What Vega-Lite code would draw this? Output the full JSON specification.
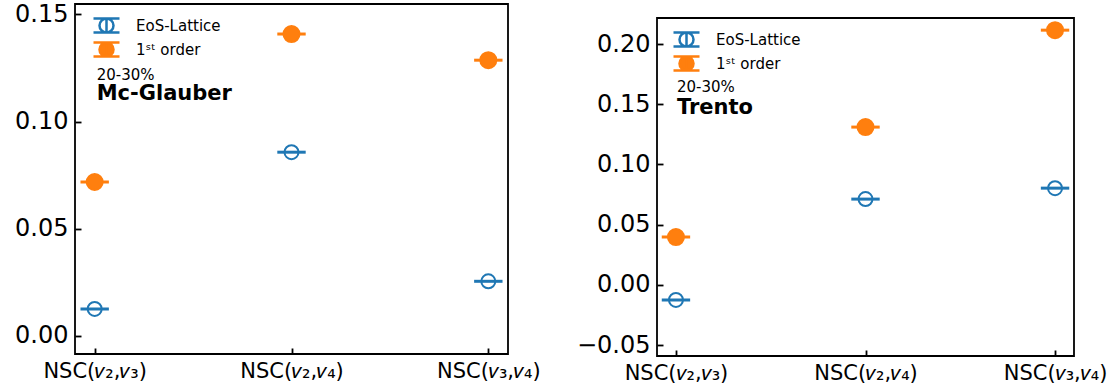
{
  "$schema": "https://vega.github.io/schema/vega-lite/v6.json",
  "padding": {"left": 13, "top": 1, "right": 0, "bottom": 0},
  "background": "white",
  "config": {
    "font": "DejaVu Sans",
    "view": {"stroke": "black", "strokeWidth": 1.8},
    "axis": {
      "domain": false,
      "grid": false,
      "tickColor": "black",
      "tickWidth": 1.8,
      "tickSize": -6,
      "labelColor": "black",
      "labelFont": "DejaVu Sans"
    },
    "axisY": {"labelFontSize": 24, "labelPadding": 13},
    "axisX": {"labelFontSize": 21, "labelPadding": 12, "labelAngle": 0},
    "legend": {
      "padding": 0,
      "symbolSize": 400,
      "symbolStrokeWidth": 2.5,
      "symbolOpacity": 1,
      "labelFontSize": 15,
      "labelColor": "black",
      "labelOffset": 18,
      "rowPadding": -1
    }
  },
  "datasets": {
    "glauber": [
      {"nsc": "NSC(𝑣₂,𝑣₃)", "series": "EoS-Lattice", "value": 0.0126},
      {"nsc": "NSC(𝑣₂,𝑣₄)", "series": "EoS-Lattice", "value": 0.0857},
      {"nsc": "NSC(𝑣₃,𝑣₄)", "series": "EoS-Lattice", "value": 0.0255},
      {"nsc": "NSC(𝑣₂,𝑣₃)", "series": "1ˢᵗ order", "value": 0.0718},
      {"nsc": "NSC(𝑣₂,𝑣₄)", "series": "1ˢᵗ order", "value": 0.1408},
      {"nsc": "NSC(𝑣₃,𝑣₄)", "series": "1ˢᵗ order", "value": 0.1286}
    ],
    "trento": [
      {"nsc": "NSC(𝑣₂,𝑣₃)", "series": "EoS-Lattice", "value": -0.0125},
      {"nsc": "NSC(𝑣₂,𝑣₄)", "series": "EoS-Lattice", "value": 0.0712},
      {"nsc": "NSC(𝑣₃,𝑣₄)", "series": "EoS-Lattice", "value": 0.0803},
      {"nsc": "NSC(𝑣₂,𝑣₃)", "series": "1ˢᵗ order", "value": 0.0397},
      {"nsc": "NSC(𝑣₂,𝑣₄)", "series": "1ˢᵗ order", "value": 0.1310},
      {"nsc": "NSC(𝑣₃,𝑣₄)", "series": "1ˢᵗ order", "value": 0.2115}
    ]
  },
  "resolve": {"legend": {"color": "independent", "fill": "independent"}},
  "spacing": 33,
  "hconcat": [
    {
      "width": 433,
      "height": 350,
      "layer": [
        {
          "data": {"name": "glauber"},
          "mark": {"type": "tick", "thickness": 0.6, "size": 26, "opacity": 1, "filled": false, "strokeWidth": 2.4},
          "encoding": {
            "x": {"field": "nsc", "type": "nominal", "title": null,
                  "scale": {"type": "point", "padding": 0.1, "domain": ["NSC(𝑣₂,𝑣₃)", "NSC(𝑣₂,𝑣₄)", "NSC(𝑣₃,𝑣₄)"]}},
            "y": {"field": "value", "type": "quantitative", "title": null,
                  "scale": {"domain": [-0.0084, 0.1548], "nice": false, "zero": false},
                  "axis": {"values": [0, 0.05, 0.1, 0.15], "format": ".2f"}},
            "stroke": {"field": "series", "type": "nominal", "legend": null,
                       "scale": {"domain": ["EoS-Lattice", "1ˢᵗ order"], "range": ["#1f77b4", "#ff7f0e"]}}
          }
        },
        {
          "data": {"name": "glauber"},
          "mark": {"type": "point", "filled": false, "opacity": 1, "strokeWidth": 2},
          "encoding": {
            "x": {"field": "nsc", "type": "nominal"},
            "y": {"field": "value", "type": "quantitative"},
            "color": {"field": "series", "type": "nominal",
                      "scale": {"domain": ["EoS-Lattice", "1ˢᵗ order"], "range": ["#1f77b4", "#ff7f0e"]},
                      "legend": {"title": null, "orient": "none", "legendX": 20, "legendY": 10,
                                 "symbolType": "M-1.3,-0.7H1.3M0,-0.7V0.7M-1.3,0.7H1.3M0.7,0A0.7,0.7,0,1,1,-0.7,0A0.7,0.7,0,1,1,0.7,0"}},
            "fill": {"field": "series", "type": "nominal",
                     "scale": {"domain": ["EoS-Lattice", "1ˢᵗ order"], "range": ["transparent", "#ff7f0e"]},
                     "legend": {"title": null, "orient": "none", "legendX": 20, "legendY": 10,
                                "symbolType": "M-1.3,-0.7H1.3M0,-0.7V0.7M-1.3,0.7H1.3M0.7,0A0.7,0.7,0,1,1,-0.7,0A0.7,0.7,0,1,1,0.7,0"}},
            "size": {"field": "series", "type": "nominal", "legend": null,
                     "scale": {"domain": ["EoS-Lattice", "1ˢᵗ order"], "range": [196, 256]}}
          }
        },
        {
          "data": {"values": [{"note": "20-30%"}]},
          "mark": {"type": "text", "align": "left", "baseline": "middle", "fontSize": 15, "dx": 2, "color": "black"},
          "encoding": {
            "x": {"datum": "NSC(𝑣₂,𝑣₃)"},
            "y": {"datum": 0.1216},
            "text": {"field": "note"}
          }
        },
        {
          "data": {"values": [{"note": "Mc-Glauber"}]},
          "mark": {"type": "text", "align": "left", "baseline": "middle", "fontSize": 21, "fontWeight": "bold", "dx": 2, "color": "black"},
          "encoding": {
            "x": {"datum": "NSC(𝑣₂,𝑣₃)"},
            "y": {"datum": 0.1127},
            "text": {"field": "note"}
          }
        }
      ]
    },
    {
      "spacing": 0,
      "vconcat": [
        {
          "width": 417,
          "height": 13,
          "view": {"stroke": null},
          "data": {"values": []},
          "mark": "point"
        },
        {
          "width": 417,
          "height": 338,
          "layer": [
            {
              "data": {"name": "trento"},
              "mark": {"type": "tick", "thickness": 0.6, "size": 26, "opacity": 1, "filled": false, "strokeWidth": 2.4},
              "encoding": {
                "x": {"field": "nsc", "type": "nominal", "title": null,
                      "scale": {"type": "point", "padding": 0.1, "domain": ["NSC(𝑣₂,𝑣₃)", "NSC(𝑣₂,𝑣₄)", "NSC(𝑣₃,𝑣₄)"]}},
                "y": {"field": "value", "type": "quantitative", "title": null,
                      "scale": {"domain": [-0.0591, 0.2216], "nice": false, "zero": false},
                      "axis": {"values": [-0.05, 0, 0.05, 0.1, 0.15, 0.2], "format": ".2f"}},
                "stroke": {"field": "series", "type": "nominal", "legend": null,
                           "scale": {"domain": ["EoS-Lattice", "1ˢᵗ order"], "range": ["#1f77b4", "#ff7f0e"]}}
              }
            },
            {
              "data": {"name": "trento"},
              "mark": {"type": "point", "filled": false, "opacity": 1, "strokeWidth": 2},
              "encoding": {
                "x": {"field": "nsc", "type": "nominal"},
                "y": {"field": "value", "type": "quantitative"},
                "color": {"field": "series", "type": "nominal",
                          "scale": {"domain": ["EoS-Lattice", "1ˢᵗ order"], "range": ["#1f77b4", "#ff7f0e"]},
                          "legend": {"title": null, "orient": "none", "legendX": 18, "legendY": 24,
                                     "symbolType": "M-1.3,-0.7H1.3M0,-0.7V0.7M-1.3,0.7H1.3M0.7,0A0.7,0.7,0,1,1,-0.7,0A0.7,0.7,0,1,1,0.7,0"}},
                "fill": {"field": "series", "type": "nominal",
                         "scale": {"domain": ["EoS-Lattice", "1ˢᵗ order"], "range": ["transparent", "#ff7f0e"]},
                         "legend": {"title": null, "orient": "none", "legendX": 18, "legendY": 24,
                                    "symbolType": "M-1.3,-0.7H1.3M0,-0.7V0.7M-1.3,0.7H1.3M0.7,0A0.7,0.7,0,1,1,-0.7,0A0.7,0.7,0,1,1,0.7,0"}},
                "size": {"field": "series", "type": "nominal", "legend": null,
                         "scale": {"domain": ["EoS-Lattice", "1ˢᵗ order"], "range": [196, 256]}}
              }
            },
            {
              "data": {"values": [{"note": "20-30%"}]},
              "mark": {"type": "text", "align": "left", "baseline": "middle", "fontSize": 15, "dx": 1, "color": "black"},
              "encoding": {
                "x": {"datum": "NSC(𝑣₂,𝑣₃)"},
                "y": {"datum": 0.1643},
                "text": {"field": "note"}
              }
            },
            {
              "data": {"values": [{"note": "Trento"}]},
              "mark": {"type": "text", "align": "left", "baseline": "middle", "fontSize": 21, "fontWeight": "bold", "dx": 1, "color": "black"},
              "encoding": {
                "x": {"datum": "NSC(𝑣₂,𝑣₃)"},
                "y": {"datum": 0.1468},
                "text": {"field": "note"}
              }
            }
          ]
        }
      ]
    }
  ]
}
